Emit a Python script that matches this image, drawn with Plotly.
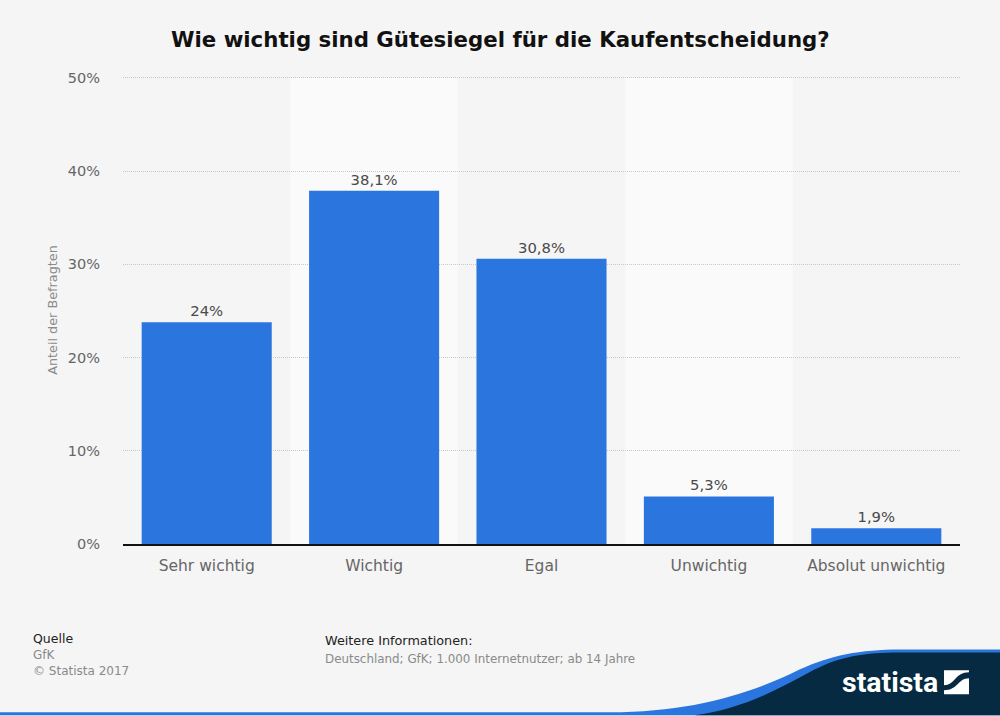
import plotly.graph_objects as go

WIDTH = 1000
HEIGHT = 716
LEFT, RIGHT, TOP, BOTTOM = 123, 960, 76, 544.5

categories = ["Sehr wichtig", "Wichtig", "Egal", "Unwichtig", "Absolut unwichtig"]
bar_values = [23.8, 37.9, 30.6, 5.1, 1.7]
value_labels = ["24%", "38,1%", "30,8%", "5,3%", "1,9%"]
y_ticks = [0, 10, 20, 30, 40, 50]
y_tick_labels = ["0%", "10%", "20%", "30%", "40%", "50%"]
y_max = 50.214  # a little headroom so the 50% gridline is still drawn

BG = "#f5f5f5"
BLUE = "#2a76de"
NAVY = "#052a42"


def px(x, y):
    # page pixels to paper coordinates
    return (x - LEFT) / (RIGHT - LEFT), (BOTTOM - y) / (BOTTOM - TOP)


def path(cmds):
    out = []
    for c, pts in cmds:
        if c == "C":
            out.append("C" + " ".join("%.5f,%.5f" % px(*p) for p in pts))
        else:
            out.extend(c + "%.5f,%.5f" % px(*p) for p in pts)
    return " ".join(out) + " Z"


def page_text(x, y, text, size, color, anchor="left", weight="normal", family="DejaVu Sans"):
    fx, fy = px(x, y)
    fig.add_annotation(x=fx, y=fy, xref="paper", yref="paper", text=text, showarrow=False,
                       xanchor=anchor, yanchor="middle", borderpad=0, borderwidth=0,
                       font=dict(family=family, size=size, color=color, weight=weight))


fig = go.Figure()
fig.add_trace(go.Bar(x=categories, y=bar_values, text=value_labels, textposition="outside",
                     cliponaxis=False, marker=dict(color=BLUE, line=dict(width=0)),
                     textfont=dict(family="DejaVu Sans", size=14.8, color="#4a4a4a"),
                     hoverinfo="x+y"))

# lighter bands behind every other category
for i in (1, 3):
    fig.add_shape(type="rect", xref="x", yref="y", x0=i - 0.5, x1=i + 0.5, y0=0, y1=50,
                  fillcolor="#fafafa", line_width=0, layer="below")

# footer wave
blue_wave = [("M", [(0, 716)]), ("L", [(0, 713), (610, 713)]),
             ("C", [(690, 713), (750, 695), (800, 670)]),
             ("C", [(830, 656), (860, 650), (900, 650)]),
             ("L", [(1000, 650), (1000, 716)])]
navy_wave = [("M", [(695, 716)]),
             ("C", [(740, 710), (775, 692), (815, 670)]),
             ("C", [(840, 657), (865, 653), (900, 653)]),
             ("L", [(1000, 653), (1000, 716)])]
fig.add_shape(type="path", xref="paper", yref="paper", path=path(blue_wave),
              fillcolor=BLUE, line_width=0, layer="below")
fig.add_shape(type="path", xref="paper", yref="paper", path=path(navy_wave),
              fillcolor=NAVY, line_width=0, layer="below")

# statista mark
mark_top = [("M", [(944, 671)]), ("L", [(969, 671), (969, 673)]),
            ("C", [(955, 673), (955, 686), (944, 686)])]
mark_bottom = [("M", [(969, 679)]), ("L", [(969, 695), (944, 695), (944, 691)]),
               ("C", [(958, 691), (958, 679), (969, 679)])]
for p in (mark_top, mark_bottom):
    fig.add_shape(type="path", xref="paper", yref="paper", path=path(p),
                  fillcolor="white", line_width=0)

page_text(500, 39, "Wie wichtig sind Gütesiegel für die Kaufentscheidung?", 21.3, "#111111",
          anchor="center", weight="bold")
page_text(33, 639.5, "Quelle", 12.5, "#222222")
page_text(33, 656, "GfK", 12, "#8a8a8a")
page_text(33, 672, "© Statista 2017", 12, "#8a8a8a")
page_text(325, 641.5, "Weitere Informationen:", 12.8, "#222222")
page_text(325, 660, "Deutschland; GfK; 1.000 Internetnutzer; ab 14 Jahre", 11.9, "#8a8a8a")
page_text(842, 683, "statista", 28.5, "white", weight="bold", family="Roboto")

fig.update_layout(
    width=WIDTH, height=HEIGHT, autosize=False,
    margin=dict(l=LEFT, r=WIDTH - RIGHT, t=TOP, b=HEIGHT - BOTTOM, autoexpand=False),
    paper_bgcolor=BG, plot_bgcolor=BG, bargap=0.223, showlegend=False,
    font=dict(family="DejaVu Sans"),
)
fig.update_xaxes(type="category", categoryorder="array", categoryarray=categories, range=[-0.5, 4.5],
                 showgrid=False, showline=True, linecolor="#111111", linewidth=1.5,
                 ticks="outside", ticklen=7, tickcolor="rgba(0,0,0,0)",
                 tickfont=dict(size=15.5, color="#666666"))
fig.update_yaxes(range=[0, y_max], tickvals=y_ticks, ticktext=y_tick_labels, showline=False, zeroline=False,
                 showgrid=True, gridcolor="#c8c8c8", griddash="1px,1px", gridwidth=1,
                 ticks="outside", ticklen=19, tickcolor="rgba(0,0,0,0)",
                 tickfont=dict(size=14.5, color="#666666"),
                 title=dict(text="Anteil der Befragten", font=dict(size=12.8, color="#8a8a8a"), standoff=7))

fig.write_html("out.html", config={"displayModeBar": False},
               post_script="document.body.style.margin='0';")
